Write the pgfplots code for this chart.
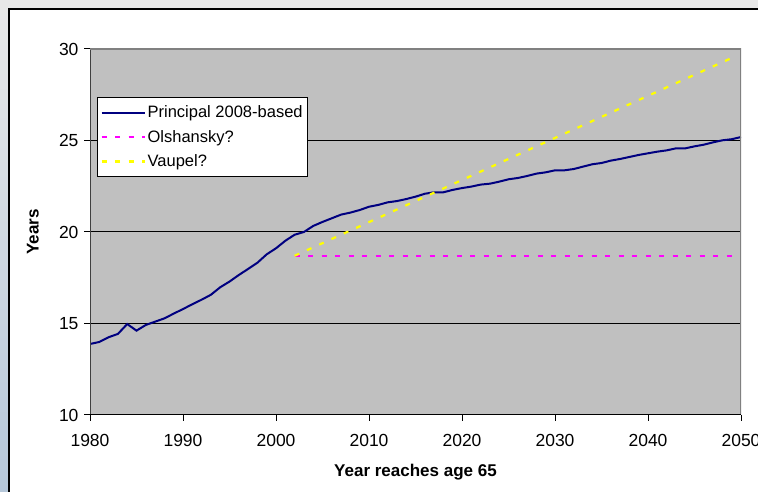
\documentclass[border=0pt]{standalone}
\usepackage{pgfplots}
\pgfplotsset{compat=1.18}
\usepackage{fontspec}
\setmainfont{Liberation Sans}
\definecolor{plotgray}{HTML}{C0C0C0}
\definecolor{navyline}{HTML}{000080}
\definecolor{pmagenta}{HTML}{FF00FF}
\definecolor{pyellow}{HTML}{FFFF00}
\definecolor{bgtop}{HTML}{E8E8E8}
\definecolor{bgbot}{HTML}{B5C7D9}
\begin{document}
\begin{tikzpicture}[x=1bp,y=1bp]
\useasboundingbox (0,0) rectangle (758,492);
% outer background
\fill[bgtop] (0,0) rectangle (758,492);
\shade[top color=bgtop,bottom color=bgbot] (0,0) rectangle (8,484);
\fill[white] (8,-5) rectangle (765,484);
\draw[black,line width=2bp] (9,-5) -- (9,483) -- (765,483);
\begin{axis}[
  at={(90bp,77bp)}, anchor=south west,
  scale only axis, width=651bp, height=366bp,
  xmin=1980, xmax=2050, ymin=10, ymax=30,
  xtick={1980,1990,...,2050}, ytick={10,15,...,30},
  xticklabel style={/pgf/number format/1000 sep={}},
  /pgf/number format/assume math mode=true,
  tick label style={font=\fontsize{17.5bp}{20bp}\selectfont},
  tick align=outside, xtick pos=lower, ytick pos=left,
  major tick length=6bp,
  tick style={black, line width=1bp},
  xticklabel style={yshift=-10bp},
  yticklabel style={xshift=-2bp},
  axis line style={draw=none},
  axis background/.style={fill=plotgray},
  ymajorgrids, grid style={black, line width=1bp},
  xlabel={\bfseries Year reaches age 65},
  ylabel={\bfseries Years},
  label style={font=\fontsize{17bp}{20bp}\selectfont},
  x label style={at={(axis description cs:0.5,-0.156)}, anchor=center},
  y label style={at={(axis description cs:-0.0876,0.5)}, anchor=center},
  legend style={at={(0.0108,0.869)}, anchor=north west, draw=black, line width=0.8bp,
    fill=white, font=\fontsize{16.5bp}{19bp}\selectfont, row sep=7bp,
    inner xsep=3bp, inner ysep=6.5bp, cells={anchor=west}},
  legend image code/.code={\draw[#1] (0bp,0bp) -- (43bp,0bp);},
  legend cell align=left,
]
\addplot[navyline, line width=2bp] coordinates {
(1980,13.88)(1981,13.99)(1982,14.25)(1983,14.43)(1984,14.97)(1985,14.61)
(1986,14.92)(1987,15.10)(1988,15.28)(1989,15.54)(1990,15.79)(1991,16.05)
(1992,16.30)(1993,16.57)(1994,16.98)(1995,17.29)(1996,17.65)(1997,17.98)
(1998,18.32)(1999,18.78)(2000,19.11)(2001,19.52)(2002,19.85)(2003,20.00)
(2004,20.33)(2005,20.55)(2006,20.75)(2007,20.95)(2008,21.06)(2009,21.20)
(2010,21.38)(2011,21.48)(2012,21.62)(2013,21.69)(2014,21.80)(2015,21.93)
(2016,22.09)(2017,22.17)(2018,22.17)(2019,22.30)(2020,22.40)(2021,22.48)
(2022,22.59)(2023,22.64)(2024,22.75)(2025,22.88)(2026,22.95)(2027,23.06)
(2028,23.19)(2029,23.26)(2030,23.37)(2031,23.37)(2032,23.44)(2033,23.57)
(2034,23.70)(2035,23.77)(2036,23.90)(2037,23.99)(2038,24.10)(2039,24.21)
(2040,24.30)(2041,24.39)(2042,24.46)(2043,24.57)(2044,24.57)(2045,24.68)
(2046,24.77)(2047,24.90)(2048,25.01)(2049,25.07)(2050,25.19)};
\addlegendentry{Principal 2008-based}
\addplot[pmagenta, line width=2.2bp, dash pattern=on 5bp off 8.5bp] coordinates {
(2002,18.70)(2010,18.70)(2020,18.70)(2030,18.70)(2040,18.70)(2049,18.70)};
\addlegendentry{Olshansky?}
\addplot[pyellow, line width=2.2bp, dash pattern=on 5bp off 8.5bp] coordinates {
(2002,18.70)(2010,20.54)(2020,22.84)(2030,25.14)(2040,27.44)(2049,29.51)};
\addlegendentry{Vaupel?}
\draw[black!75, line width=2bp] (rel axis cs:0,0) -- (rel axis cs:0,1);
\draw[gray, line width=2bp] (rel axis cs:0,1) -- (rel axis cs:1,1) -- (rel axis cs:1,0);
\draw[black, line width=2bp] (rel axis cs:0,0) -- (rel axis cs:1,0);
\end{axis}
\end{tikzpicture}
\end{document}
